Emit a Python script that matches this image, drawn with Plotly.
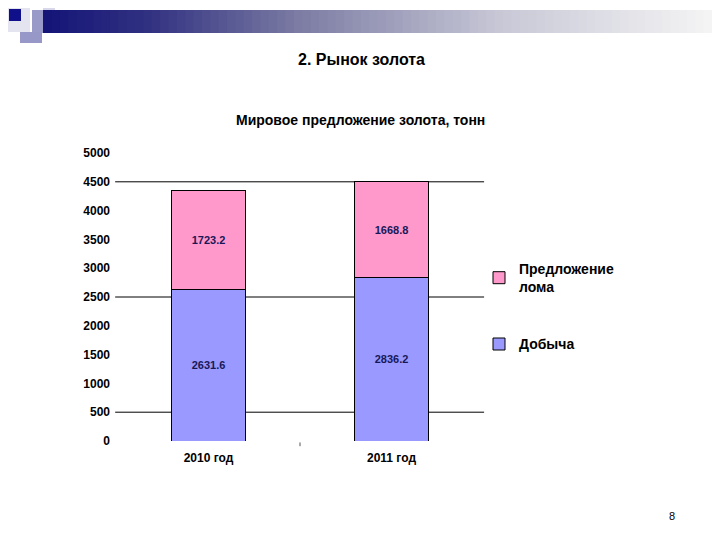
import plotly.graph_objects as go

categories = ["2010 год", "2011 год"]
mining = [2631.6, 2836.2]
scrap = [1723.2, 1668.8]
grid_levels = [500, 2500, 4500]
y_ticks = list(range(0, 5001, 500))

FONT = "Liberation Sans, Arial, sans-serif"
LABEL_COLOR = "#181858"
OFF = 8  # page body margin offset

# target page pixel positions of the plot area
PL, PR, PT, PB = 117 - OFF, 483 - OFF, 153 - OFF, 441 - OFF
W, H = 720, 540


def px_x(x):
    return (x - OFF - PL) / (PR - PL)


def px_y(y):
    return (PB - (y - OFF)) / (PB - PT)


fig = go.Figure()
fig.add_trace(go.Bar(
    x=categories, y=mining, name="Добыча",
    marker=dict(color="#9999ff", line=dict(color="black", width=1)),
    text=[f"{v:.1f}" for v in mining], textposition="inside",
    insidetextanchor="middle",
    textfont=dict(family=FONT, size=11, color=LABEL_COLOR, weight="bold"),
    width=0.4, legendgroup="a", legendrank=2,
))
fig.add_trace(go.Bar(
    x=categories, y=scrap, name="Предложение<br>лома",
    marker=dict(color="#ff99cc", line=dict(color="black", width=1)),
    text=[f"{v:.1f}" for v in scrap], textposition="inside",
    insidetextanchor="middle",
    textfont=dict(family=FONT, size=11, color=LABEL_COLOR, weight="bold"),
    width=0.4, legendgroup="b", legendrank=1,
))

shapes = []
for g in grid_levels:
    shapes.append(dict(type="line", xref="x domain", yref="y", x0=-0.005, x1=1.003,
                       y0=g, y1=g, line=dict(color="black", width=1), layer="below"))
# small boundary tick between categories
shapes.append(dict(type="line", xref="x", yref="paper", x0=0.5, x1=0.5, y0=-0.005, y1=-0.018,
                   line=dict(color="#555", width=1)))


def px_rect(x0, y0, x1, y1, color):
    return dict(type="rect", xref="paper", yref="paper",
                x0=px_x(x0), x1=px_x(x1), y0=px_y(y1), y1=px_y(y0),
                fillcolor=color, line=dict(width=0), layer="below")


# slide decoration (top-left)
shapes.append(px_rect(0, 0, 30, 32, "#e4e4f0"))
shapes.append(px_rect(43, 0, 55, 22, "#d8d8ea"))
stops = [(43, (20, 20, 120)), (150, (50, 50, 130)), (300, (125, 125, 165)),
         (500, (200, 200, 215)), (712, (245, 245, 245))]
n = 80
x_start, x_end = 43, 712
for i in range(n):
    xa = x_start + (x_end - x_start) * i / n
    xb = x_start + (x_end - x_start) * (i + 1) / n
    xm = (xa + xb) / 2
    for j in range(len(stops) - 1):
        if stops[j][0] <= xm <= stops[j + 1][0]:
            t = (xm - stops[j][0]) / (stops[j + 1][0] - stops[j][0])
            c = tuple(int(stops[j][1][k] + (stops[j + 1][1][k] - stops[j][1][k]) * t) for k in range(3))
            break
    shapes.append(px_rect(xa, 10, xb + 1.5, 33, "rgb(%d,%d,%d)" % c))
shapes.append(px_rect(32, 10, 43, 33, "#9a9ac8"))
shapes.append(px_rect(9, 9, 21, 21, "#10108a"))
shapes.append(px_rect(20, 32, 42, 43, "#9898c8"))

annotations = [
    dict(text="<b>2. Рынок золота</b>", xref="paper", yref="paper",
         x=px_x(361), y=px_y(60), showarrow=False,
         font=dict(family=FONT, size=16, color="black"), xanchor="center", yanchor="middle"),
    dict(text="<b>Мировое предложение золота, тонн</b>", xref="paper", yref="paper",
         x=px_x(360), y=px_y(120), showarrow=False,
         font=dict(family=FONT, size=14, color="black"), xanchor="center", yanchor="middle"),
    dict(text="8", xref="paper", yref="paper",
         x=px_x(672), y=px_y(516), showarrow=False,
         font=dict(family=FONT, size=11, color="black"), xanchor="center", yanchor="middle"),
]

fig.update_layout(
    width=W, height=H,
    margin=dict(l=PL, r=W - PR, t=PT, b=H - PB),
    barmode="stack",
    plot_bgcolor="white", paper_bgcolor="white",
    font=dict(family=FONT, color="black"),
    showlegend=True,
    legend=dict(x=px_x(479), y=px_y(253), xanchor="left", yanchor="top",
                traceorder="grouped", tracegroupgap=36,
                font=dict(family=FONT, size=14, color="black", weight="bold"),
                itemwidth=30, bgcolor="rgba(0,0,0,0)"),
    shapes=shapes,
    annotations=annotations,
    xaxis=dict(range=[-0.5, 1.5], showgrid=False, showline=False, zeroline=False,
               ticks="", tickfont=dict(family=FONT, size=12, color="black", weight="bold"),
               ticklabelstandoff=8),
    yaxis=dict(range=[0, 5000], tickvals=y_ticks, showgrid=False, showline=False,
               zeroline=False, ticks="", ticklabelstandoff=6,
               tickfont=dict(family=FONT, size=12, color="black", weight="bold")),
)

fig.write_html("out.html")
